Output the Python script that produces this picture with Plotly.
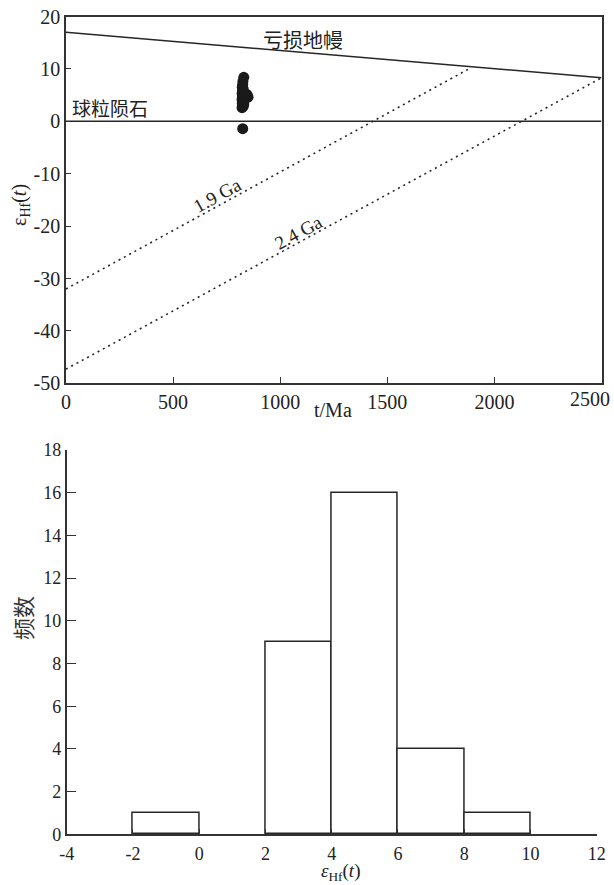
import plotly.graph_objects as go

# ---------------- data ----------------
# Upper panel: t (Ma) vs eHf(t)
age_ma = [825, 822, 828, 825, 830, 823, 826, 829, 824, 827,
          825, 822, 828, 826, 830, 823, 850, 845, 824, 827,
          825, 829, 822, 826, 828, 824, 827, 823, 825, 826, 830]
eps_hf = [-1.4, 2.6, 2.9, 3.1, 3.3, 3.4, 3.5, 3.6, 3.8, 3.9,
          4.0, 4.1, 4.2, 4.3, 4.4, 4.5, 4.6, 5.1, 4.7, 4.8,
          4.9, 5.0, 5.3, 5.5, 5.7, 5.9, 6.2, 6.5, 7.0, 7.6, 8.4]

dm_t = [0, 2500]          # depleted mantle evolution line
dm_eps = [17.0, 8.3]
chur_t = [0, 2500]        # chondrite (CHUR)
chur_eps = [0, 0]
ga19_t = [0, 1890]        # 1.9 Ga crustal evolution line
ga19_eps = [-32.0, 10.2]
ga24_t = [0, 2500]        # 2.4 Ga crustal evolution line
ga24_eps = [-47.3, 8.3]

top_xticks = [0, 500, 1000, 1500, 2000, 2500]
top_xlabels = ["0", "500", "1000", "1500", "2000", "2500"]
top_yticks = [20, 10, 0, -10, -20, -30, -40, -50]
top_ylabels = ["20", "10", "0", "-10", "-20", "-30", "-40", "-50"]

# Lower panel: histogram of eHf(t)
bin_centers = [-1, 3, 5, 7, 9]
bin_counts = [1, 9, 16, 4, 1]
bin_width = 2

bot_xticks = [-4, -2, 0, 2, 4, 6, 8, 10, 12]
bot_xlabels = ["-4", "-2", "0", "2", "4", "6", "8", "10", "12"]
bot_yticks = [0, 2, 4, 6, 8, 10, 12, 14, 16, 18]
bot_ylabels = ["0", "2", "4", "6", "8", "10", "12", "14", "16", "18"]

# ---------------- figure ----------------
W, H = 614, 885
SERIF = "Liberation Serif, Times New Roman, Noto Sans CJK SC, serif"
CJK = "Noto Sans CJK SC, sans-serif"
INK = "#262626"

fig = go.Figure()

fig.add_trace(go.Scatter(x=dm_t, y=dm_eps, mode="lines",
                         line=dict(color=INK, width=1.5), xaxis="x", yaxis="y",
                         showlegend=False, hoverinfo="skip"))
fig.add_trace(go.Scatter(x=chur_t, y=chur_eps, mode="lines",
                         line=dict(color=INK, width=1.5), xaxis="x", yaxis="y",
                         showlegend=False, hoverinfo="skip"))
fig.add_trace(go.Scatter(x=ga19_t, y=ga19_eps, mode="lines",
                         line=dict(color=INK, width=1.6, dash="2px,4px"),
                         xaxis="x", yaxis="y", showlegend=False, hoverinfo="skip"))
fig.add_trace(go.Scatter(x=ga24_t, y=ga24_eps, mode="lines",
                         line=dict(color=INK, width=1.6, dash="2px,4px"),
                         xaxis="x", yaxis="y", showlegend=False, hoverinfo="skip"))
fig.add_trace(go.Scatter(x=age_ma, y=eps_hf, mode="markers",
                         marker=dict(color="#1a1a1a", size=11, line=dict(width=0)),
                         xaxis="x", yaxis="y", showlegend=False))

fig.add_trace(go.Bar(x=bin_centers, y=bin_counts, width=bin_width,
                     marker=dict(color="white", line=dict(color=INK, width=1.5)),
                     xaxis="x2", yaxis="y2", showlegend=False))

top_font = dict(family=SERIF, size=20, color="#222")
bot_font = dict(family=SERIF, size=18, color="#222")

def px_x(p):
    return p / W

def px_y(p):
    return 1 - p / H

axis_common = dict(showgrid=False, zeroline=False, showline=True,
                   linecolor="#333", linewidth=1.5, ticks="inside",
                   tickcolor="#333", tickwidth=1.3,
                   tickmode="array", fixedrange=True, automargin=False,
                   ticklabeloverflow="allow")

# last top x tick label is drawn nudged left (as in the original figure)
top_xlabels_axis = top_xlabels[:-1] + [""]

fig.update_layout(
    template="none",
    width=W, height=H,
    margin=dict(l=0, r=0, t=0, b=0, pad=0),
    paper_bgcolor="white", plot_bgcolor="white",
    bargap=0,
    xaxis=dict(axis_common, domain=[px_x(66), px_x(601.5)], range=[0, 2500],
               tickvals=top_xticks, ticktext=top_xlabels_axis, ticklen=7,
               tickfont=top_font, mirror=True, anchor="y", ticklabelstandoff=0),
    yaxis=dict(axis_common, domain=[px_y(383.3), px_y(16.5)], range=[-50, 20],
               tickvals=top_yticks, ticktext=top_ylabels, ticklen=5,
               tickfont=top_font, mirror=True, anchor="x", ticklabelstandoff=0),
    xaxis2=dict(axis_common, domain=[px_x(66.7), px_x(596.7)], range=[-4, 12],
                tickvals=bot_xticks, ticktext=bot_xlabels, ticklen=6,
                tickfont=bot_font, anchor="y2", ticklabelstandoff=2),
    yaxis2=dict(axis_common, domain=[px_y(834.3), px_y(450)], range=[0, 18],
                tickvals=bot_yticks, ticktext=bot_ylabels, ticklen=10,
                tickfont=bot_font, anchor="x2", ticklabelstandoff=0),
)

C = dict(xanchor="center", yanchor="middle", showarrow=False)
ann = []
ann.append(dict(C, x=top_xticks[-1], y=0, xref="x", yref="paper",
                text=top_xlabels[-1], xshift=-12, yshift=px_y(398.5) * H,
                font=top_font))
# in-plot labels (upper panel)
ann.append(dict(C, x=1105, y=15.6, xref="x", yref="y", text="亏损地幔",
                font=dict(family=CJK, size=20, color="#222")))
ann.append(dict(C, x=205, y=2.7, xref="x", yref="y", text="球粒陨石",
                font=dict(family=CJK, size=19, color="#222")))
ann.append(dict(C, x=705, y=-14.2, xref="x", yref="y", text="1.9 Ga",
                textangle=-28.6, font=dict(family=SERIF, size=19, color="#222")))
ann.append(dict(C, x=1085, y=-21.2, xref="x", yref="y", text="2.4 Ga",
                textangle=-28.6, font=dict(family=SERIF, size=19, color="#222")))
# axis titles
ann.append(dict(C, x=px_x(333), y=px_y(410), xref="paper", yref="paper", text="t/Ma",
                font=dict(family=SERIF, size=20, color="#222")))
ann.append(dict(C, x=px_x(21), y=px_y(205), xref="paper", yref="paper",
                text="ε<sub>Hf</sub>(<i>t</i>)", textangle=-90,
                font=dict(family=SERIF, size=20, color="#222")))
ann.append(dict(C, x=px_x(22), y=px_y(618), xref="paper", yref="paper", text="频数",
                textangle=-90, font=dict(family=CJK, size=22, color="#333")))
ann.append(dict(C, x=px_x(340), y=px_y(872), xref="paper", yref="paper",
                text="<i>ε</i><sub>Hf</sub>(<i>t</i>)",
                font=dict(family=SERIF, size=19, color="#222")))
fig.update_layout(annotations=ann)

fig.write_html("out.html", config={"displayModeBar": False},
               post_script="document.body.style.margin='0';document.body.style.padding='0';")
